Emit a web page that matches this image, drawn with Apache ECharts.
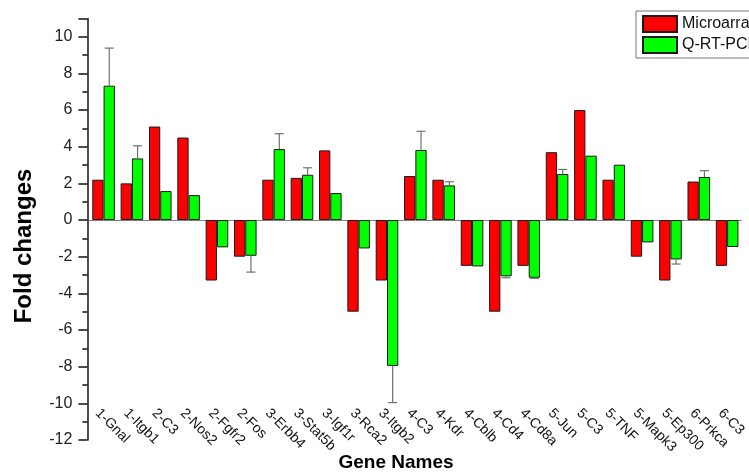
<!DOCTYPE html>
<html>
<head>
<meta charset="utf-8">
<script src="https://cdn.jsdelivr.net/npm/echarts@6/dist/echarts.min.js"></script>
<style>
html,body{margin:0;padding:0;background:#fff;}
#chart{width:749px;height:474px;}
</style>
</head>
<body>
<div id="chart"></div>
<script>
const categories = ['1-Gnal','1-Itgb1','2-C3','2-Nos2','2-Fgfr2','2-Fos','3-Erbb4','3-Stat5b','3-Igf1r','3-Rca2','3-Itgb2','4-C3','4-Kdr','4-Cblb','4-Cd4','4-Cd8a','5-Jun','5-C3','5-TNF','5-Mapk3','5-Ep300','6-Prkca','6-C3'];
const microarray = [2.2, 2.0, 5.1, 4.5, -3.3, -2.0, 2.2, 2.3, 3.8, -5.0, -3.3, 2.4, 2.2, -2.5, -5.0, -2.5, 3.7, 6.0, 2.2, -2.0, -3.3, 2.1, -2.5];
const qrtpcr = [7.33, 3.36, 1.58, 1.36, -1.49, -1.95, 3.87, 2.47, 1.47, -1.55, -7.96, 3.82, 1.89, -2.53, -3.07, -3.15, 2.51, 3.51, 3.02, -1.22, -2.15, 2.35, -1.47];
const qrtpcrErr = [2.05, 0.69, null, null, null, 0.89, 0.84, 0.38, null, null, 2.0, 1.02, 0.2, null, 0.08, 0.03, 0.25, null, null, null, 0.25, 0.34, null];
const yTicks = {min: -12, max: 11, interval: 2};

const BAR_W = 11.3;
const errData = [];
qrtpcrErr.forEach((e, i) => { if (e != null) errData.push([i, qrtpcr[i], e]); });

const chart = echarts.init(document.getElementById('chart'), null, {renderer: 'canvas'});
const FONT = 'Liberation Sans, Arial, sans-serif';
chart.setOption({
  animation: false,
  backgroundColor: '#fff',
  textStyle: {fontFamily: FONT},
  grid: [
    {left: 89.4, right: 7.7, top: 18.4, height: 421.6, containLabel: false},
    {left: 83.4, right: 13.7, top: 380, height: 23, containLabel: false}
  ],
  legend: {
    data: ['Microarray', 'Q-RT-PCR'],
    orient: 'vertical',
    left: 636, top: 11,
    itemWidth: 34, itemHeight: 16, itemGap: 3,
    padding: [4, 5, 4, 6],
    borderColor: '#777', borderWidth: 1,
    icon: 'rect',
    textStyle: {fontSize: 16, color: '#111', fontFamily: FONT}
  },
  xAxis: [
    {
      type: 'category', gridIndex: 0, data: categories,
      axisLine: {onZero: true, lineStyle: {color: '#808080', width: 1}},
      axisTick: {show: false}, axisLabel: {show: false}, splitLine: {show: false}
    },
    {
      type: 'category', gridIndex: 1, data: categories, position: 'bottom',
      axisLine: {show: false}, axisTick: {show: false}, splitLine: {show: false},
      axisLabel: {interval: 0, rotate: -45, margin: 8, fontSize: 14, color: '#111', fontFamily: FONT}
    }
  ],
  yAxis: [
    {
      type: 'value', gridIndex: 0, min: yTicks.min, max: yTicks.max, interval: yTicks.interval,
      offset: 2,
      axisLine: {show: true, lineStyle: {color: '#111', width: 1.5}},
      axisTick: {show: true, inside: false, length: 9, lineStyle: {color: '#111', width: 1.5}},
      minorTick: {show: true, splitNumber: 2, length: 5, lineStyle: {color: '#111', width: 1.5}},
      axisLabel: {margin: 15, fontSize: 16, color: '#222', fontFamily: FONT, showMaxLabel: false},
      splitLine: {show: false}
    },
    {type: 'value', gridIndex: 1, show: false}
  ],
  graphic: [
    {type: 'text', x: 24, y: 246, rotation: Math.PI / 2,
     style: {text: 'Fold changes', font: 'bold 24px Liberation Sans, Arial, sans-serif', fill: '#000', textAlign: 'center', textVerticalAlign: 'middle'}},
    {type: 'text', x: 396, y: 463,
     style: {text: 'Gene Names', font: 'bold 19px Liberation Sans, Arial, sans-serif', fill: '#000', textAlign: 'center', textVerticalAlign: 'middle'}}
  ],
  series: [
    {
      name: 'Microarray', type: 'bar', xAxisIndex: 0, yAxisIndex: 0, data: microarray,
      barWidth: BAR_W, barGap: '0%',
      itemStyle: {color: '#FF0000', borderColor: '#1a1a1a', borderWidth: 1}
    },
    {
      name: 'Q-RT-PCR', type: 'bar', xAxisIndex: 0, yAxisIndex: 0, data: qrtpcr,
      barWidth: BAR_W, barGap: '0%',
      itemStyle: {color: '#00FF00', borderColor: '#1a1a1a', borderWidth: 1}
    },
    {
      name: 'err', type: 'custom', xAxisIndex: 0, yAxisIndex: 0, data: errData, z: 5,
      encode: {x: 0, y: 1},
      renderItem: function (params, api) {
        const i = api.value(0), v = api.value(1), e = api.value(2);
        const end = v >= 0 ? v + e : v - e;
        const p1 = api.coord([i, v]);
        const p2 = api.coord([i, end]);
        const x = p1[0] + BAR_W / 2;
        const cap = 4.5;
        const st = {stroke: '#707070', lineWidth: 1.2};
        return {type: 'group', children: [
          {type: 'line', shape: {x1: x, y1: p1[1], x2: x, y2: p2[1]}, style: st},
          {type: 'line', shape: {x1: x - cap, y1: p2[1], x2: x + cap, y2: p2[1]}, style: st}
        ]};
      }
    }
  ]
});
</script>
</body>
</html>
